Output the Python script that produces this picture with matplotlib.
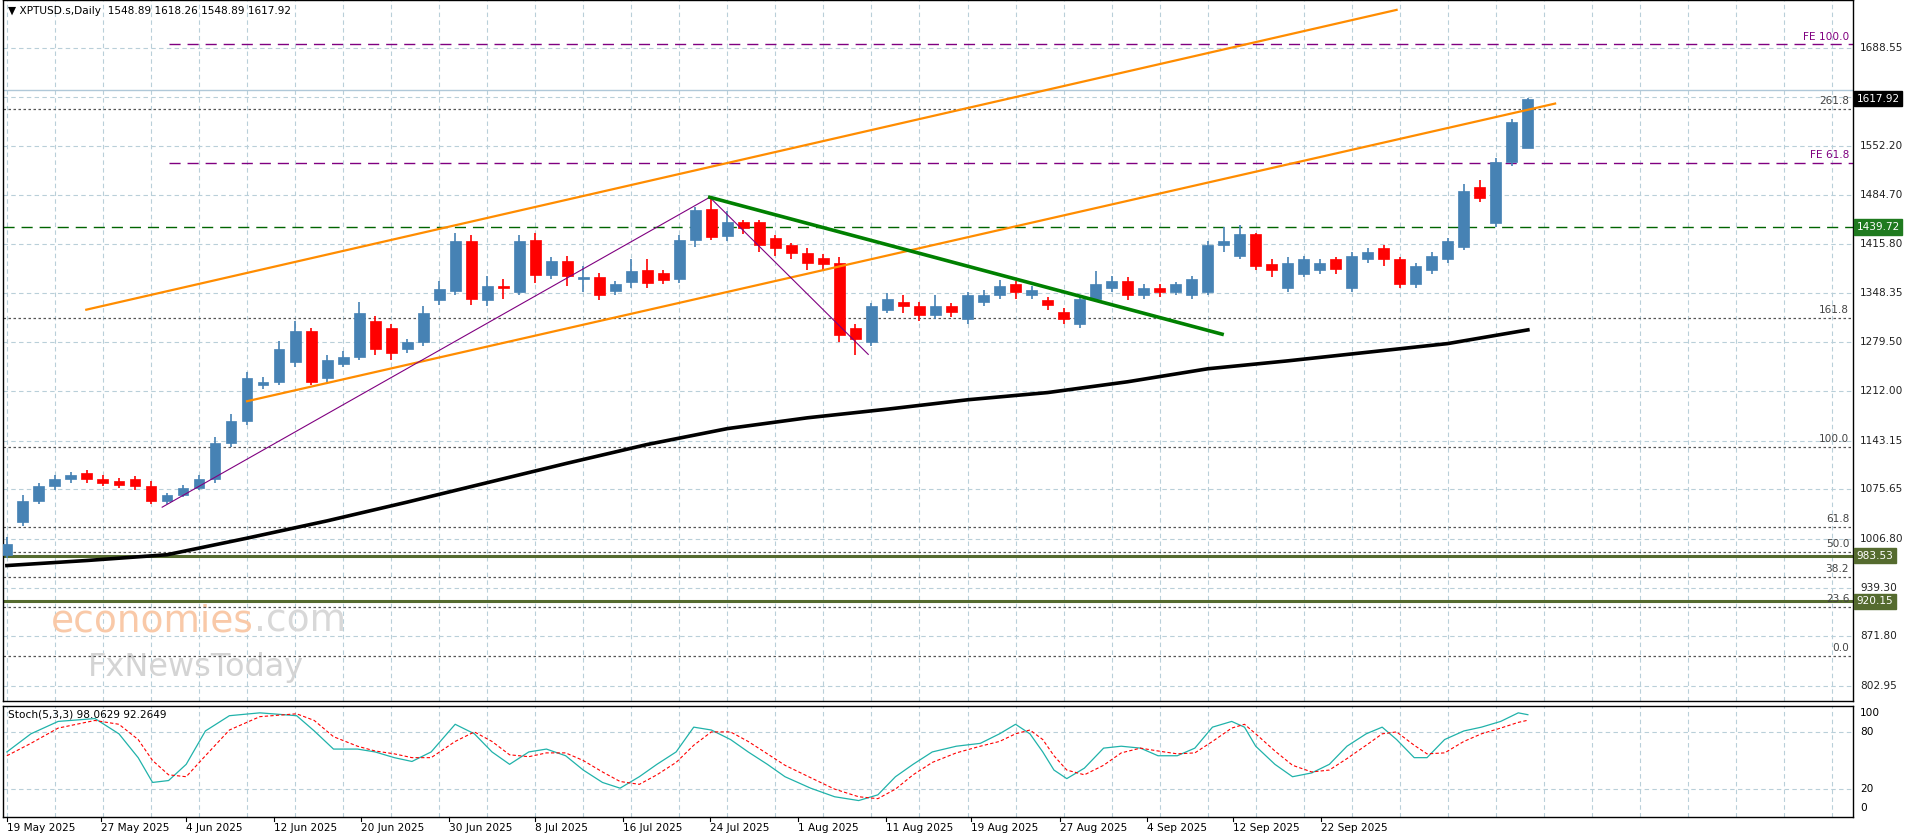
import matplotlib
matplotlib.use("Agg")
import matplotlib.pyplot as plt
import matplotlib.transforms as mtransforms
from matplotlib.patches import Rectangle
import numpy as np

opens = [985,1030,1060,1080,1090,1098,1090,1088,1090,1080,
         1060,1068,1078,1090,1140,1170,1220,1225,1252,1295,
         1230,1250,1260,1310,1300,1270,1280,1339,1351,1420,
         1339,1358,1350,1422,1373,1393,1368,1370,1351,1363,
         1380,1376,1368,1422,1465,1427,1446,1446,1424,1415,
         1404,1397,1390,1300,1280,1325,1335,1330,1318,1330,
         1312,1335,1345,1360,1345,1338,1322,1305,1340,1355,
         1365,1345,1355,1350,1345,1350,1415,1400,1430,1388,
         1355,1375,1380,1395,1355,1395,1410,1395,1360,1380,
         1395,1412,1495,1445,1530,1548.89]
closes = [1000,1060,1080,1090,1095,1090,1085,1082,1080,1060,
          1068,1078,1090,1140,1170,1230,1225,1270,1295,1225,
          1255,1260,1320,1270,1265,1280,1320,1354,1420,1340,
          1358,1355,1420,1373,1393,1372,1370,1346,1360,1378,
          1362,1366,1422,1463,1426,1446,1438,1415,1410,1404,
          1390,1388,1290,1285,1330,1340,1330,1318,1330,1322,
          1345,1345,1358,1350,1352,1332,1312,1340,1360,1365,
          1345,1355,1350,1360,1368,1415,1420,1430,1385,1380,
          1390,1395,1390,1382,1400,1405,1395,1360,1385,1400,
          1420,1490,1480,1530,1585,1617.92]
highs = [1010,1068,1085,1095,1100,1102,1095,1092,1094,1088,
         1070,1082,1095,1148,1180,1238,1232,1282,1310,1300,
         1262,1268,1335,1316,1305,1285,1330,1365,1432,1428,
         1372,1368,1428,1432,1398,1400,1385,1376,1365,1395,
         1395,1380,1428,1468,1482,1462,1450,1450,1428,1418,
         1410,1402,1398,1305,1334,1348,1345,1335,1345,1334,
         1350,1352,1366,1365,1358,1342,1328,1345,1378,1372,
         1370,1360,1360,1364,1372,1420,1440,1442,1432,1395,
         1398,1400,1396,1398,1405,1410,1415,1398,1390,1405,
         1425,1500,1505,1535,1590,1618.26]
lows = [980,1025,1055,1075,1085,1085,1080,1078,1075,1055,
        1055,1065,1075,1085,1135,1165,1215,1220,1245,1220,
        1225,1245,1255,1262,1255,1265,1275,1332,1345,1332,
        1330,1340,1345,1362,1368,1358,1350,1338,1345,1355,
        1355,1360,1362,1412,1422,1420,1430,1405,1400,1395,
        1380,1380,1280,1262,1275,1320,1320,1310,1312,1315,
        1305,1330,1340,1340,1340,1325,1305,1300,1335,1350,
        1338,1340,1342,1345,1340,1345,1405,1395,1380,1370,
        1350,1370,1375,1375,1350,1390,1385,1355,1355,1375,
        1390,1408,1475,1440,1525,1548.89]

ma_bars = [0,5,10,15,20,25,30,35,40,45,50,55,60,65,70,75,80,85,90,95]
ma_vals = [970,977,985,1008,1032,1058,1085,1112,1138,1160,1175,1187,1200,1210,1225,1243,1254,1266,1278,1297]

date_labels = ["19 May 2025","27 May 2025","4 Jun 2025","12 Jun 2025","20 Jun 2025",
               "30 Jun 2025","8 Jul 2025","16 Jul 2025","24 Jul 2025","1 Aug 2025",
               "11 Aug 2025","19 Aug 2025","27 Aug 2025","4 Sep 2025","12 Sep 2025","22 Sep 2025"]
date_pos = [0,5.9,11.2,16.7,22.1,27.6,33,38.5,43.9,49.4,54.9,60.2,65.8,71.2,76.6,82.1]

price_ticks = [1688.55,1552.20,1484.70,1415.80,1348.35,1279.50,1212.00,1143.15,
               1075.65,1006.80,939.30,871.80,802.95]
grid_prices = price_ticks + [1620.45]

fib0, fib100 = 844.0, 1134.0
fib_levels = [0.0, 23.6, 38.2, 50.0, 61.8, 100.0, 161.8, 261.8]
fe_levels = [("FE 100.0", 1693.0), ("FE 61.8", 1529.0)]
res_level = 1439.72
sup_levels = [983.53, 920.15]
last_price = 1617.92

chan_upper = ([4.96, 86.8], [1325, 1741])
chan_lower = ([15.0, 96.7], [1198, 1611])
purple_path = ([9.7, 43.9, 53.8], [1051, 1481, 1263])
green_line = ([43.9, 75.9], [1481, 1291])

stoch_x = [0,1.5,3.2,5.5,7,8.2,9.1,10.1,11.2,12.4,13.9,15.8,18.1,19.2,20.4,21.9,23,24.2,25.3,26.5,
           28,29.2,30.3,31.4,32.6,33.7,34.9,36,37.2,38.3,39.5,40.6,41.8,42.9,44,45.2,46.3,47.5,48.6,50.2,
           51.7,53.2,54.4,55.5,56.6,57.8,59.3,60.8,62,63,63.9,64.7,65.4,66.2,67.3,68.5,69.6,70.8,71.9,73.1,
           74.2,75.3,76.5,77.3,78,79.2,80.3,81.5,82.6,83.7,84.9,85.9,86.8,87.9,88.7,89.8,91,92.1,93.3,94.4,95]
stoch_k = [59,78,91,94,78,53,27,29,46,81,97,100,97,81,62,62,59,53,49,59,
           88,78,59,46,59,62,55,40,27,21,33,46,59,85,82,72,59,46,33,21,
           12,8,14,33,46,59,65,68,78,88,78,59,40,31,42,63,65,63,55,55,
           63,85,91,85,65,46,33,37,46,65,78,85,72,53,53,72,81,85,91,100,98.06]
stoch_d = [55,68,84,92,88,72,50,35,33,55,82,96,99,92,75,65,60,57,53,53,
           70,80,70,56,54,58,58,50,38,28,25,35,48,66,80,80,70,57,45,32,
           20,12,10,20,35,48,58,65,70,78,82,72,55,40,35,45,58,63,60,57,
           58,70,84,88,78,60,45,38,40,52,66,78,80,66,57,58,70,78,84,90,92.26]

W, H = 1916, 840
fig = plt.figure(figsize=(W/100, H/100), dpi=100)
fig.patch.set_facecolor("white")
vw, vh = 1568.0, 687.0
main = fig.add_axes([0.0015, 1-573/vh, 1514/vw, 573/vh])
sto = fig.add_axes([0.0015, 1-668/vh, 1514/vw, 91/vh])

BULL, BEAR = "#4682B4", "#FF0000"
GRID = "#b9cfd9"
FS = 7.6
xl = (-0.25, 115.3)

ax = main
ax.set_xlim(*xl)
ax.set_ylim(782.6, 1754.7)
for p in grid_prices:
    ax.axhline(p, color=GRID, lw=0.8, ls=(0, (4, 3)), zorder=0)
for b in range(0, 116, 3):
    ax.axvline(b, color=GRID, lw=0.8, ls=(0, (4, 3)), zorder=0)

n = len(opens)
xs = np.arange(n)
for i in range(n):
    o, c, h, l = opens[i], closes[i], highs[i], lows[i]
    col = BULL if c >= o else BEAR
    ax.vlines(xs[i], l, h, color=col, lw=1.2, zorder=3)
    bh = max(abs(c - o), 1.5)
    ax.add_patch(Rectangle((xs[i]-0.34, min(o, c)), 0.68, bh, facecolor=col, edgecolor=col, lw=0.5, zorder=4))

ax.plot(ma_bars, ma_vals, color="black", lw=2.6, zorder=5)
ax.plot(*chan_upper, color="#FF8C00", lw=1.6, zorder=5)
ax.plot(*chan_lower, color="#FF8C00", lw=1.6, zorder=5)
ax.plot(*purple_path, color="#800080", lw=0.8, zorder=5)
ax.plot(*green_line, color="#008000", lw=2.6, zorder=5)

ytr = mtransforms.blended_transform_factory(ax.transAxes, ax.transData)
for lv in fib_levels:
    p = fib0 + (fib100 - fib0) * lv / 100.0
    ax.axhline(p, color="#555555", lw=0.9, ls=(0, (2, 2)), zorder=2)
    ax.text(0.998, p + 4, f"{lv:.1f}", transform=ytr, ha="right", va="bottom", fontsize=FS, color="#444444", zorder=6)
for name, p in fe_levels:
    ax.plot([10.1, 115.3], [p, p], color="#800080", lw=1.0, ls=(0, (8, 5)), zorder=2)
    ax.text(0.998, p + 4, name, transform=ytr, ha="right", va="bottom", fontsize=FS, color="#800080", zorder=6)
ax.axhline(res_level, color="#006400", lw=1.0, ls=(0, (8, 5)), zorder=2)
for p in sup_levels:
    ax.axhline(p, color="#556B2F", lw=2.2, zorder=2)
ax.axhline(last_price + 12, color="#b0c8d8", lw=1.0, zorder=1)

for p in price_ticks:
    ax.text(1.004, p, f"{p:.2f}", transform=ytr, ha="left", va="center", fontsize=FS, color="#222222", clip_on=False)
def box(p, txt, bg):
    ax.text(1.002, p, txt, transform=ytr, ha="left", va="center", fontsize=FS, color="white",
            bbox=dict(boxstyle="square,pad=0.25", facecolor=bg, edgecolor=bg), clip_on=False, zorder=10)
box(last_price, f"{last_price:.2f}", "black")
box(res_level, f"{res_level:.2f}", "#1f7a1f")
for p in sup_levels:
    box(p, f"{p:.2f}", "#556B2F")

ax.text(0.003, 0.992, "\u25BC XPTUSD.s,Daily  1548.89 1618.26 1548.89 1617.92", transform=ax.transAxes,
        ha="left", va="top", fontsize=FS, color="black")
wm = ax.text(0.026, 0.098, "economies", transform=ax.transAxes, fontsize=27, color="#f9c9a8",
             ha="left", va="baseline", zorder=1)
fig.canvas.draw()
bb = wm.get_window_extent().transformed(ax.transAxes.inverted())
ax.text(bb.x1, 0.098, ".com", transform=ax.transAxes, fontsize=27, color="#d8d8d8", ha="left", va="baseline", zorder=1)
ax.text(0.046, 0.035, "FxNewsToday", transform=ax.transAxes, fontsize=23, color="#d4d4d4", ha="left", va="baseline", zorder=1)

ax.set_xticks([]); ax.set_yticks([])
for s in ax.spines.values():
    s.set_color("black"); s.set_linewidth(1.0)

s2 = sto
s2.set_xlim(*xl)
s2.set_ylim(-9, 107.7)
for b in range(0, 116, 3):
    s2.axvline(b, color=GRID, lw=0.8, ls=(0, (4, 3)), zorder=0)
for lv in (20, 80):
    s2.axhline(lv, color=GRID, lw=0.8, ls=(0, (4, 3)), zorder=0)
m = min(len(stoch_x), len(stoch_k), len(stoch_d))
s2.plot(stoch_x[:m], stoch_k[:m], color="#20B2AA", lw=0.9)
s2.plot(stoch_x[:m], stoch_d[:m], color="#FF0000", lw=0.8, ls=(0, (3, 2)))
s2.text(0.003, 0.96, "Stoch(5,3,3) 98.0629 92.2649", transform=s2.transAxes, ha="left", va="top", fontsize=FS)
ytr2 = mtransforms.blended_transform_factory(s2.transAxes, s2.transData)
for lv in (100, 80, 20, 0):
    s2.text(1.004, lv, str(lv), transform=ytr2, ha="left", va="center", fontsize=FS, clip_on=False)
s2.set_xticks([]); s2.set_yticks([])
for s in s2.spines.values():
    s.set_color("black"); s.set_linewidth(1.0)
for p, lab in zip(date_pos, date_labels):
    s2.text(p, -0.06, lab, transform=mtransforms.blended_transform_factory(s2.transData, s2.transAxes),
            ha="left", va="top", fontsize=FS, clip_on=False)
    s2.plot([p, p], [0, -0.04], transform=mtransforms.blended_transform_factory(s2.transData, s2.transAxes),
            color="black", lw=0.8, clip_on=False)

fig.savefig("out.png", dpi=100, facecolor="white")
